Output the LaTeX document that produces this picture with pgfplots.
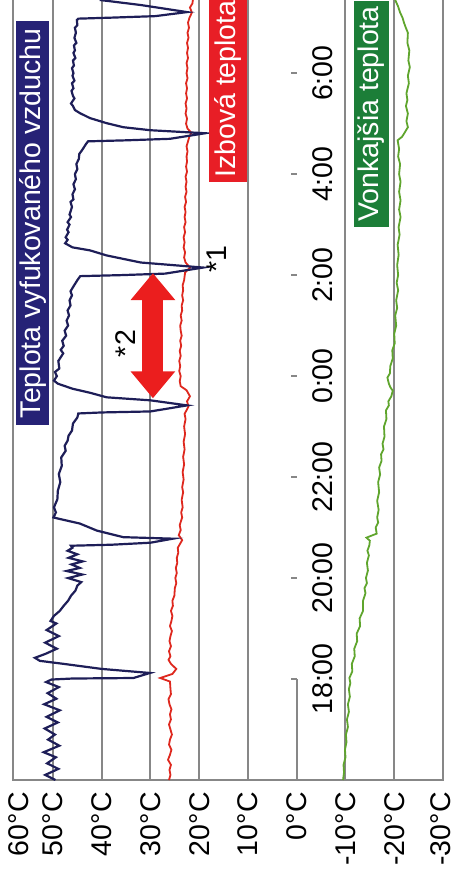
\documentclass[border=0pt]{standalone}
\usepackage{fontspec}
\setmainfont{Liberation Sans}
\usepackage{pgfplots}
\pgfplotsset{compat=1.18}
\usepackage{pgfplotstable}
\usetikzlibrary{arrows.meta}

\definecolor{gridc}{RGB}{135,135,135}
\definecolor{bluel}{RGB}{30,30,88}
\definecolor{redl}{RGB}{222,40,30}
\definecolor{greenl}{RGB}{95,165,45}
\definecolor{navybox}{RGB}{38,34,118}
\definecolor{redbox}{RGB}{232,30,38}
\definecolor{greenbox}{RGB}{28,126,56}
\definecolor{arrowred}{RGB}{235,30,30}
\newcommand{\fs}{\fontsize{14.25}{16}\selectfont}

% blue: exhaust air temperature (time in h, 24+ after midnight; temperature in C)
\pgfplotstableread{
t T
16.00 49.5
16.10 51.6
16.22 48.9
16.33 51.2
16.45 49.4
16.55 51.9
16.68 48.7
16.80 51.0
16.90 49.6
17.02 51.7
17.14 49.0
17.25 51.3
17.38 48.6
17.50 51.8
17.61 49.3
17.72 51.1
17.84 48.8
17.94 51.4
17.99 50.3
18.01 46.0
18.02 33.5
18.12 30.1
18.20 40.0
18.30 47.8
18.36 52.7
18.42 53.7
18.50 51.5
18.60 49.2
18.72 51.6
18.85 48.8
18.97 51.3
19.10 49.3
19.15 50.5
19.25 49.8
19.35 48.6
19.45 47.8
19.55 46.9
19.65 46.3
19.75 45.4
19.85 45.0
19.92 44.2
20.00 46.9
20.07 44.0
20.14 47.2
20.20 44.5
20.27 46.2
20.33 43.9
20.40 46.8
20.47 45.0
20.54 47.0
20.60 46.0
20.64 46.3
20.66 38.0
20.70 30.0
20.78 25.4
20.81 35.6
20.94 41.0
21.08 44.5
21.17 48.6
21.20 49.9
21.30 49.4
21.40 49.8
21.56 49.1
21.73 49.0
21.90 48.5
22.06 48.8
22.22 48.2
22.39 48.3
22.52 47.4
22.62 47.6
22.72 47.0
22.82 46.8
22.92 46.1
23.06 45.9
23.18 45.0
23.26 44.8
23.28 40.0
23.30 30.0
23.42 22.5
23.52 30.0
23.58 39.0
23.67 42.4
23.75 46.0
23.85 49.0
23.91 49.8
24.00 49.2
24.08 49.6
24.15 48.7
24.30 48.9
24.45 47.9
24.52 48.4
24.60 47.8
24.70 48.1
24.80 47.3
24.90 47.6
25.00 46.9
25.10 47.2
25.20 46.7
25.30 47.0
25.40 46.4
25.50 46.6
25.60 46.1
25.68 46.4
25.76 45.9
25.90 45.0
25.98 44.4
26.00 36.0
26.03 27.0
26.15 19.2
26.25 32.0
26.39 39.0
26.49 42.4
26.55 46.0
26.63 47.5
26.70 47.0
26.75 47.4
26.85 46.8
26.90 47.1
27.00 46.6
27.05 47.0
27.15 46.3
27.20 46.6
27.35 46.1
27.45 46.4
27.50 45.8
27.60 46.0
27.70 45.5
27.80 45.8
27.90 45.3
28.00 45.5
28.10 45.0
28.20 45.2
28.30 44.7
28.40 44.6
28.48 44.0
28.60 43.2
28.65 42.8
28.67 35.0
28.70 26.0
28.81 18.8
28.87 30.0
28.93 35.6
29.01 39.0
29.11 42.4
29.21 44.5
29.27 45.5
29.35 45.9
29.40 46.3
29.50 45.6
29.55 45.9
29.65 46.2
29.70 45.8
29.80 46.1
29.85 45.6
29.95 46.0
30.00 45.8
30.10 46.1
30.15 45.7
30.25 45.9
30.30 45.4
30.40 45.8
30.45 45.5
30.55 45.7
30.60 45.2
30.70 45.6
30.80 45.3
30.90 45.5
30.95 45.0
31.05 45.1
31.08 44.8
31.10 38.0
31.13 29.0
31.21 22.5
31.35 32.0
31.45 40.4
}\blueT

% red: room temperature
\pgfplotstableread{
t T
16.00 26.2
16.10 25.9
16.20 26.1
16.30 25.8
16.40 26.4
16.50 26.0
16.60 25.7
16.70 26.2
16.80 26.0
16.90 25.6
17.00 25.9
17.10 26.2
17.20 25.8
17.30 26.0
17.40 25.7
17.50 26.1
17.60 26.3
17.70 25.8
17.80 25.9
17.95 26.0
18.02 28.0
18.10 25.5
18.20 24.7
18.30 25.8
18.38 26.3
18.45 25.9
18.55 26.2
18.65 25.8
18.75 26.1
18.85 25.9
18.95 25.6
19.05 26.0
19.15 25.7
19.25 25.5
19.35 25.8
19.45 25.4
19.55 25.5
19.65 25.1
19.80 25.0
19.90 24.7
20.00 24.9
20.10 24.6
20.20 24.8
20.30 24.5
20.40 24.6
20.50 24.3
20.60 24.4
20.75 23.5
20.85 24.2
20.95 23.8
21.05 24.0
21.20 23.5
21.30 23.7
21.40 23.4
21.55 23.6
21.70 23.3
21.80 23.5
21.95 23.2
22.10 23.4
22.25 23.1
22.40 23.3
22.55 23.0
22.70 23.2
22.85 22.9
23.00 23.1
23.15 22.8
23.25 23.0
23.40 22.2
23.50 22.5
23.60 21.9
23.72 22.6
23.80 23.8
23.90 24.0
24.00 23.8
24.10 24.1
24.20 23.9
24.30 24.1
24.40 23.8
24.50 24.0
24.60 23.7
24.70 23.9
24.80 23.6
24.90 23.8
25.00 23.9
25.10 23.6
25.20 23.8
25.30 23.5
25.40 23.6
25.50 23.3
25.60 23.5
25.70 23.3
25.80 23.4
25.90 23.1
26.05 22.9
26.15 21.9
26.25 22.8
26.35 23.1
26.45 22.9
26.55 23.2
26.65 23.0
26.75 23.2
26.85 22.9
26.95 23.1
27.05 22.8
27.15 23.0
27.25 22.8
27.35 23.0
27.45 22.7
27.55 22.9
27.65 22.6
27.75 22.8
27.85 22.6
27.95 22.8
28.05 22.5
28.15 22.7
28.25 22.5
28.35 22.6
28.45 22.4
28.55 22.6
28.65 22.3
28.75 22.0
28.82 21.6
28.90 22.4
29.00 22.7
29.10 22.5
29.20 22.8
29.30 22.6
29.40 22.8
29.50 22.5
29.60 22.7
29.70 22.5
29.80 22.7
29.90 22.4
30.00 22.6
30.10 22.4
30.20 22.6
30.30 22.3
30.40 22.5
30.50 22.3
30.60 22.5
30.70 22.2
30.80 22.4
30.90 22.1
31.00 22.3
31.10 22.0
31.20 21.5
31.30 21.9
31.38 21.4
31.45 21.3
}\redT

% green: outdoor temperature
\pgfplotstableread{
t T
16.00 -9.5
16.15 -9.7
16.30 -9.6
16.45 -10.0
16.60 -9.9
16.75 -10.2
16.90 -10.1
17.05 -10.5
17.20 -10.3
17.35 -10.7
17.50 -10.5
17.65 -10.9
17.80 -10.7
17.92 -11.0
18.02 -10.8
18.15 -11.4
18.30 -11.3
18.45 -11.9
18.60 -11.8
18.75 -12.4
18.90 -12.3
19.05 -13.0
19.20 -12.9
19.35 -13.6
19.55 -13.6
19.70 -14.1
19.80 -13.9
19.90 -14.4
20.00 -14.2
20.15 -14.6
20.30 -14.4
20.45 -14.8
20.54 -14.5
20.65 -14.9
20.74 -15.0
20.80 -14.3
20.88 -16.4
21.00 -16.2
21.10 -16.7
21.20 -16.5
21.35 -16.8
21.53 -16.5
21.70 -16.9
21.90 -16.7
22.05 -17.1
22.19 -16.9
22.32 -17.4
22.45 -17.3
22.55 -17.8
22.66 -17.6
22.80 -18.0
23.00 -17.9
23.15 -18.4
23.32 -18.3
23.42 -18.9
23.50 -18.8
23.60 -19.4
23.71 -19.7
23.78 -19.2
23.85 -18.9
23.97 -18.6
24.05 -19.1
24.20 -19.2
24.35 -19.7
24.51 -19.6
24.65 -20.1
24.84 -20.0
25.00 -20.4
25.20 -20.2
25.35 -20.6
25.50 -20.4
25.70 -20.8
25.85 -20.5
26.00 -20.8
26.20 -20.6
26.40 -20.9
26.60 -20.7
26.80 -21.1
26.95 -20.9
27.15 -21.3
27.30 -21.0
27.48 -21.3
27.65 -21.0
27.85 -21.3
28.00 -21.0
28.20 -21.2
28.35 -20.8
28.50 -21.0
28.67 -20.7
28.74 -21.6
28.80 -22.0
28.93 -22.8
29.05 -22.5
29.20 -22.8
29.35 -22.4
29.47 -22.7
29.60 -22.5
29.80 -23.0
29.95 -22.8
30.12 -23.2
30.25 -22.9
30.45 -23.1
30.60 -22.7
30.80 -22.8
30.92 -22.3
31.00 -22.0
31.10 -21.7
31.20 -21.2
31.32 -20.8
31.45 -20.2
}\greenT

\begin{document}
\begin{tikzpicture}
\useasboundingbox (-6.5pt,-52pt) rectangle (220.5pt,390pt);
\begin{axis}[
  at={(0pt,0pt)}, anchor=south west,
  scale only axis, width=215pt, height=393.8pt,
  x dir=reverse,
  xmin=-30, xmax=58.2, ymin=16, ymax=31.6,
  clip=false,
  xtick={50,40,30,20,10,-10,-20},
  xticklabels={50°C,40°C,30°C,20°C,10°C,-10°C,-20°C},
  extra x ticks={57,0,-29.5},
  extra x tick labels={60°C,0°C,-30°C},
  extra x tick style={grid=none},
  xmajorgrids,
  grid style={draw=gridc, line width=1pt},
  xtick style={draw=none},
  xticklabel style={rotate=90, anchor=east, inner sep=0pt, font=\fs},
  xticklabel shift=6pt,
  ytick={18,20,22,24,26,28,30},
  yticklabels={18:00,20:00,22:00,0:00,2:00,4:00,6:00},
  ytick style={draw=none},
  yticklabel style={rotate=90, anchor=north, inner sep=0pt, font=\fs},
  yticklabel shift=-149.5pt,
  axis line style={draw=gridc, line width=1pt},
]
% time-axis tick marks at 0 C and the short 0 C line
\addplot[xcomb, draw=gridc, line width=1pt, forget plot] coordinates {(1.2,18) (1.2,20) (1.2,22) (1.2,24) (1.2,26) (1.2,28) (1.2,30)};
\addplot[draw=gridc, line width=1pt, forget plot] coordinates {(0,16) (0,18)};

\addplot[greenl, line width=0.9pt] table[x=T, y=t] {\greenT};
\addplot[redl, line width=0.9pt] table[x=T, y=t] {\redT};
\addplot[bluel, line width=1.1pt] table[x=T, y=t] {\blueT};

% labels
\node[fill=navybox, text=white, rotate=90, anchor=west, inner xsep=3.5pt, inner ysep=1.5pt, font=\fs] at (axis cs:54.2,23.02) {Teplota vyfukovaného vzduchu};
\node[fill=redbox, text=white, rotate=90, anchor=west, inner xsep=2pt, inner ysep=3pt, font=\fs] at (axis cs:14.1,27.84) {Izbová teplota};
\node[fill=greenbox, text=white, rotate=90, anchor=west, inner xsep=2.5pt, inner ysep=2pt, font=\fs] at (axis cs:-15.3,26.95) {Vonkajšia teplota};
\node[rotate=90, anchor=west, inner sep=0pt, font=\fs] at (axis cs:16.4,26.04) {*1};
\node[rotate=90, anchor=west, inner sep=0pt, font=\fs] at (axis cs:35.2,24.37) {*2};
\draw[arrowred, line width=10.5pt, {Triangle[width=21.5pt,length=13.5pt]}-{Triangle[width=21.5pt,length=13.5pt]}] (axis cs:29.5,23.56) -- (axis cs:29.5,26.04);
\end{axis}
\end{tikzpicture}
\end{document}
